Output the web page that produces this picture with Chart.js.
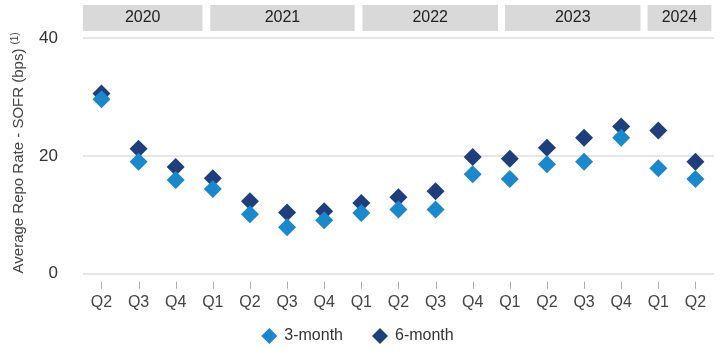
<!DOCTYPE html>
<html>
<head>
<meta charset="utf-8">
<script src="https://cdn.jsdelivr.net/npm/chart.js@4"></script>
<style>
  html, body { margin: 0; padding: 0; background: #fff; }
  #wrap { width: 723px; height: 350px; }
</style>
</head>
<body>
<div id="wrap"><canvas id="chart" width="723" height="350"></canvas></div>
<script>
const quarters = ['Q2', 'Q3', 'Q4', 'Q1', 'Q2', 'Q3', 'Q4', 'Q1', 'Q2', 'Q3', 'Q4', 'Q1', 'Q2', 'Q3', 'Q4', 'Q1', 'Q2']
const years = ['2020', '2021', '2022', '2023', '2024']
const threeMonth = [29.6, 19.0, 15.9, 14.4, 10.1, 7.9, 9.1, 10.3, 10.9, 10.9, 16.9, 16.1, 18.6, 19.0, 23.1, 17.9, 16.1]
const sixMonth = [30.6, 21.2, 18.1, 16.2, 12.3, 10.4, 10.6, 12.0, 13.0, 14.0, 19.8, 19.5, 21.4, 23.1, 25.0, 24.3, 19.0]
const yTicks = [0, 20, 40]

const FONT = "'Liberation Sans', Arial, sans-serif"
const LIGHT = '#1a88cc'
const DARK = '#1e3f7c'

// year header boxes, edges in category units (the header is a bit off the quarter boundaries)
const yearEdges = [[-0.5, 2.72], [2.93, 6.82], [7.03, 10.68], [10.87, 14.52], [14.71, 16.43]]

const yearHeader = {
   id: 'yearHeader',
   afterDraw(chart) {
      const ctx = chart.ctx
      const x = chart.scales.x
      ctx.save()
      ctx.font = '16px ' + FONT
      ctx.textAlign = 'center'
      ctx.textBaseline = 'middle'
      years.forEach((yr, i) => {
         const l = x.getPixelForValue(yearEdges[i][0])
         const r = x.getPixelForValue(yearEdges[i][1])
         ctx.fillStyle = '#d9d9d9'
         ctx.fillRect(l, 5, r - l, 26)
         ctx.fillStyle = '#222'
         ctx.fillText(yr, (l + r) / 2, 18)
      })
      ctx.restore()
   }
}

const tickMarks = {
   id: 'tickMarks',
   afterDraw(chart) {
      const ctx = chart.ctx
      const x = chart.scales.x
      const bottom = chart.chartArea.bottom
      ctx.save()
      ctx.strokeStyle = '#aaa'
      ctx.lineWidth = 1
      quarters.forEach((q, i) => {
         const px = Math.round(x.getPixelForValue(i)) + 0.5
         ctx.beginPath()
         ctx.moveTo(px, bottom + 8)
         ctx.lineTo(px, bottom + 15)
         ctx.stroke()
      })
      ctx.restore()
   }
}

const yTitle = {
   id: 'yTitle',
   afterDraw(chart) {
      const ctx = chart.ctx
      const area = chart.chartArea
      const main = 'Average Repo Rate - SOFR (bps)'
      ctx.save()
      ctx.translate(19, (area.top + area.bottom) / 2 - 3)
      ctx.rotate(-Math.PI / 2)
      ctx.font = '15px ' + FONT
      const w = ctx.measureText(main).width
      ctx.font = '10px ' + FONT
      const ws = ctx.measureText('(1)').width
      const start = -(w + 4 + ws) / 2
      ctx.fillStyle = '#444'
      ctx.textBaseline = 'middle'
      ctx.font = '15px ' + FONT
      ctx.fillText(main, start, 0)
      ctx.font = '10px ' + FONT
      ctx.fillText('(1)', start + w + 4, -4)
      ctx.restore()
   }
}

// legend drawn by hand so the item spacing can match
const bottomLegend = {
   id: 'bottomLegend',
   afterDraw(chart) {
      const ctx = chart.ctx
      const y = 336
      const gap = 29
      ctx.save()
      ctx.font = '16px ' + FONT
      const items = chart.data.datasets.map(ds => ({
         label: ds.label,
         color: ds.backgroundColor,
         w: 23 + ctx.measureText(ds.label).width
      }))
      const total = items.reduce((s, it) => s + it.w, 0) + gap * (items.length - 1)
      let x = chart.width / 2 - total / 2 - 4
      ctx.textBaseline = 'middle'
      items.forEach(it => {
         const cx = x + 8
         ctx.fillStyle = it.color
         ctx.beginPath()
         ctx.moveTo(cx - 8, y)
         ctx.lineTo(cx, y - 8)
         ctx.lineTo(cx + 8, y)
         ctx.lineTo(cx, y + 8)
         ctx.closePath()
         ctx.fill()
         ctx.fillStyle = '#333'
         ctx.fillText(it.label, x + 23, y)
         x += it.w + gap
      })
      ctx.restore()
   }
}

new Chart(document.getElementById('chart'), {
   type: 'line',
   data: {
      labels: quarters,
      datasets: [
         {
            label: '3-month',
            data: threeMonth,
            showLine: false,
            pointStyle: 'rectRot',
            pointRadius: 9,
            pointHoverRadius: 9,
            backgroundColor: LIGHT,
            borderColor: LIGHT,
            pointBorderWidth: 0
         },
         {
            label: '6-month',
            data: sixMonth,
            showLine: false,
            pointStyle: 'rectRot',
            pointRadius: 9,
            pointHoverRadius: 9,
            backgroundColor: DARK,
            borderColor: DARK,
            pointBorderWidth: 0
         }
      ]
   },
   options: {
      responsive: false,
      animation: false,
      devicePixelRatio: 1,
      layout: {
         padding: { left: 14, right: -5, top: 38, bottom: 27 }
      },
      scales: {
         x: {
            offset: true,
            grid: { display: false },
            border: { display: false },
            ticks: {
               padding: 11,
               color: '#444',
               font: { family: FONT, size: 16 },
               maxRotation: 0,
               autoSkip: false
            }
         },
         y: {
            min: 0,
            max: 40,
            afterBuildTicks(axis) {
               axis.ticks = yTicks.map(v => ({ value: v }))
            },
            grid: { color: '#e6e6e6', lineWidth: 2, drawTicks: false },
            border: { display: false },
            ticks: {
               padding: 25,
               color: '#333',
               font: { family: FONT, size: 17 }
            }
         }
      },
      plugins: {
         legend: { display: false },
         tooltip: { enabled: false }
      }
   },
   plugins: [yearHeader, tickMarks, yTitle, bottomLegend]
})
</script>
</body>
</html>
